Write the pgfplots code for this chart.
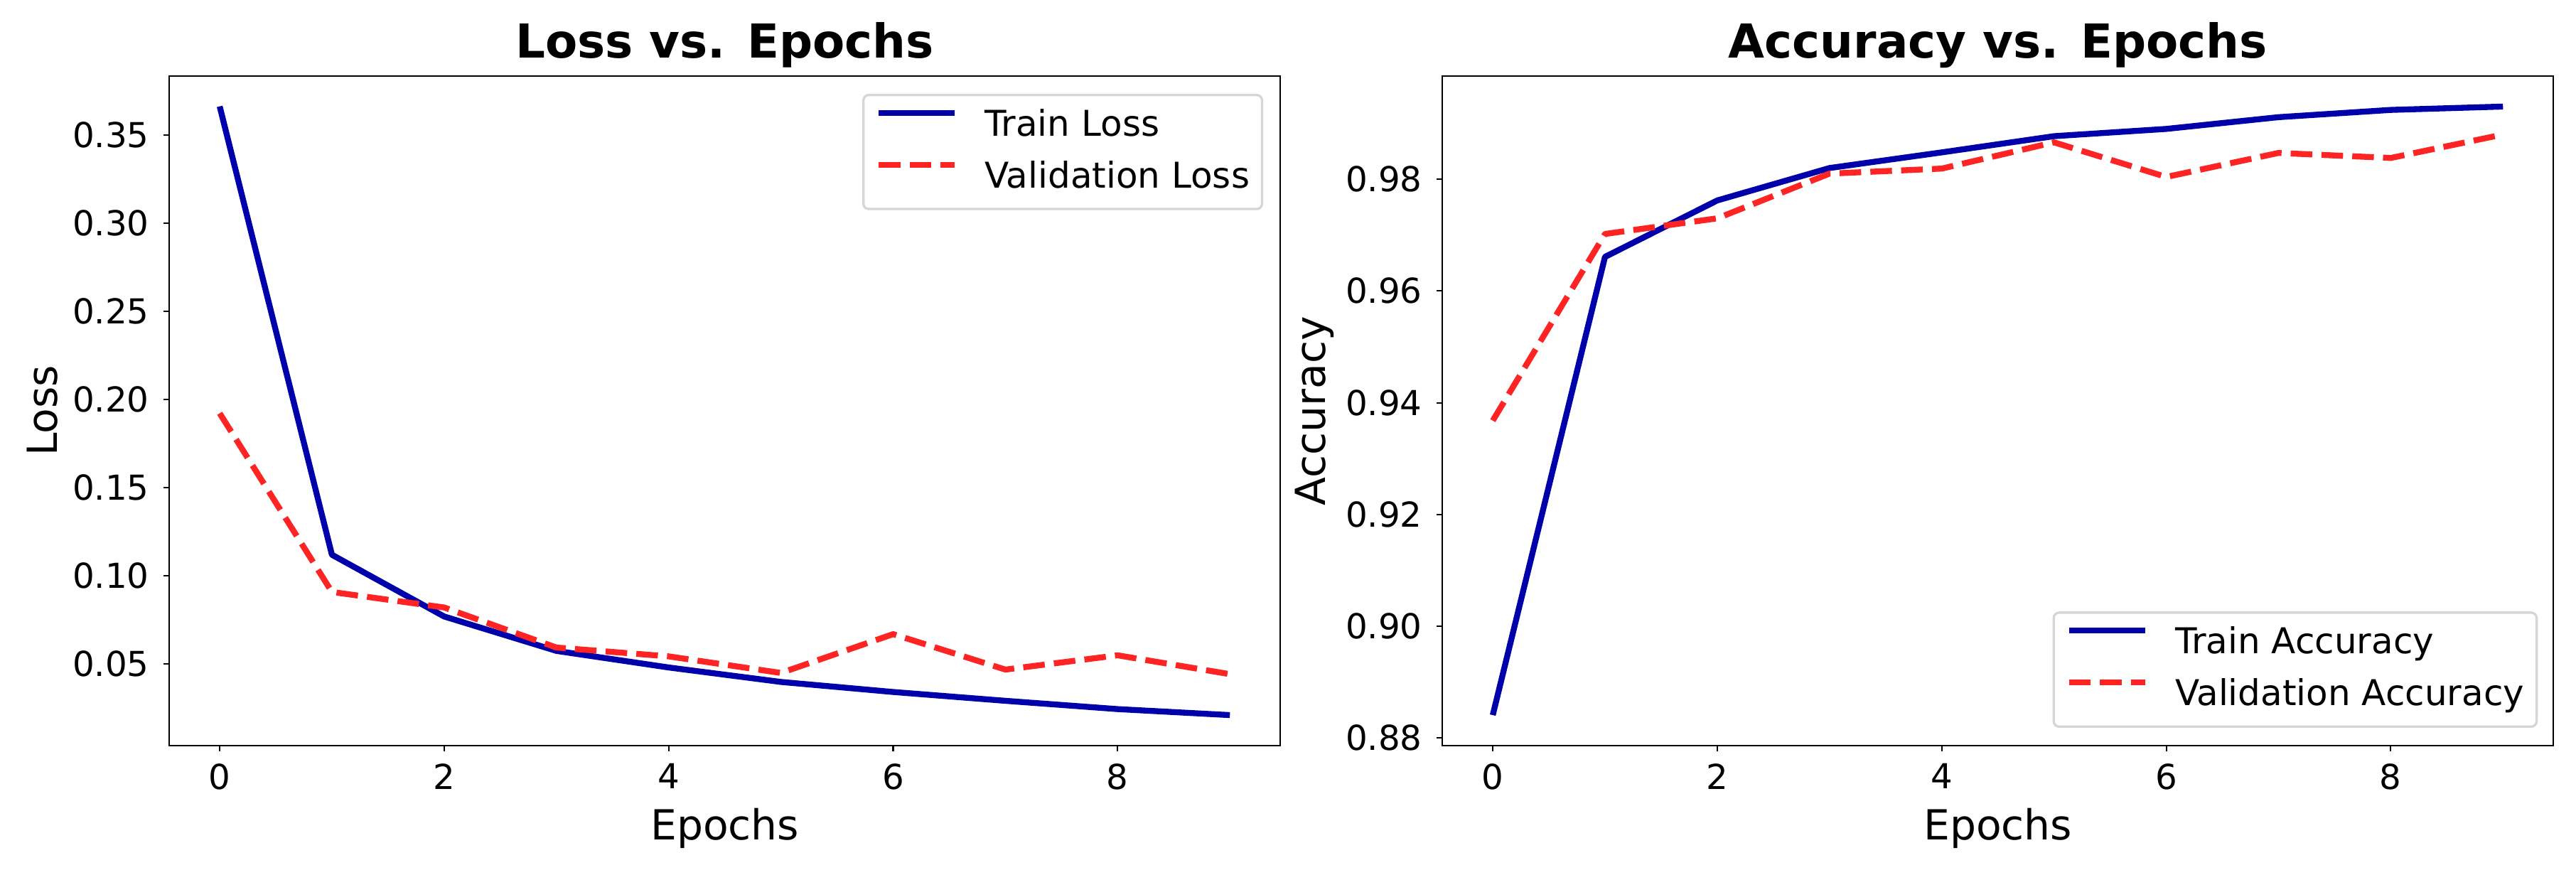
\documentclass[border=0pt]{standalone}
\usepackage{fontspec}
\setmainfont{DejaVu Sans}
\usepackage{pgfplots}
\pgfplotsset{compat=1.18}
\definecolor{tblue}{RGB}{0,0,170}
\definecolor{vred}{RGB}{255,36,36}
\definecolor{legframe}{RGB}{214,214,214}
\pgfplotsset{
  mystyle/.style={
    scale only axis,
    width=375.2bp, height=226.08bp,
    xmin=-0.45, xmax=9.45,
    xtick={0,2,4,6,8},
    xticklabels={0,2,4,6,8},
    tick pos=left,
    tick align=outside,
    major tick length=1.85bp,
    every tick/.style={line width=0.5bp, black},
    axis line style={line width=0.5bp},
    /pgf/number format/assume math mode=true,
    ticklabel style={font=\fontsize{11.6bp}{13bp}\selectfont},
    xticklabel style={inner sep=0pt, anchor=north, yshift=-4.05bp},
    yticklabel style={inner sep=0pt, anchor=east, xshift=-4.75bp},
    every axis title shift=0pt,
    title style={at={(axis description cs:0.5,1)}, anchor=base, yshift=6bp, inner sep=0pt, font=\bfseries\fontsize{15.8bp}{19bp}\selectfont},
    xlabel style={at={(axis description cs:0.5,0)}, anchor=base, yshift=-31.9bp, inner sep=0pt, font=\fontsize{14bp}{17bp}\selectfont},
    legend cell align=left,
    legend image code/.code={\draw[#1] (0bp,4.4bp) -- (25.7bp,4.4bp);},
    legend style={draw=legframe, line width=0.8bp, rounded corners=1.8bp,
      font=\fontsize{12bp}{15bp}\selectfont,
      inner xsep=4.2bp, inner ysep=4.5bp,
      column sep=9.1bp, row sep=5.5bp,
      nodes={inner sep=0pt, text height=9.4bp, text depth=2.6bp}},
    trainline/.style={color=tblue, line width=2bp, line join=round},
    valline/.style={color=vred, line width=2bp, line join=round, dash pattern=on 7.3bp off 3.1bp},
  }
}
\begin{document}
\begin{tikzpicture}
\useasboundingbox (0,0) rectangle (869.76bp,293.76bp);
\begin{axis}[mystyle, name=L,
  at={(57.12bp,42bp)}, anchor=south west,
  ymin=0.0038, ymax=0.3834,
  ytick={0.05,0.10,0.15,0.20,0.25,0.30,0.35},
  yticklabels={0.05,0.10,0.15,0.20,0.25,0.30,0.35},
  title={Loss vs. Epochs},
  xlabel={Epochs},
  legend style={at={(1,1)}, anchor=north east, xshift=-5.8bp, yshift=-6bp},
]
\addplot[trainline] coordinates {(0,0.3662) (1,0.1120) (2,0.0770) (3,0.0575) (4,0.0481) (5,0.0399) (6,0.0342) (7,0.0292) (8,0.0245) (9,0.0211)};
\addlegendentry{Train Loss}
\addplot[valline] coordinates {(0,0.1922) (1,0.0909) (2,0.0821) (3,0.0594) (4,0.0544) (5,0.0450) (6,0.0670) (7,0.0469) (8,0.0550) (9,0.0443)};
\addlegendentry{Validation Loss}
\end{axis}
\node[rotate=90, anchor=base, inner sep=0pt, font=\fontsize{14bp}{17bp}\selectfont] at ([xshift=-37.9bp]L.west) {Loss};
\begin{axis}[mystyle, name=R,
  at={(486.96bp,42bp)}, anchor=south west,
  ymin=0.87864, ymax=0.99846,
  ytick={0.88,0.90,0.92,0.94,0.96,0.98},
  yticklabels={0.88,0.90,0.92,0.94,0.96,0.98},
  title={Accuracy vs. Epochs},
  xlabel={Epochs},
  legend style={at={(1,0)}, anchor=south east, xshift=-5.3bp, yshift=6bp},
]
\addplot[trainline] coordinates {(0,0.8841) (1,0.9661) (2,0.9762) (3,0.9820) (4,0.9848) (5,0.9877) (6,0.9890) (7,0.9911) (8,0.9924) (9,0.9930)};
\addlegendentry{Train Accuracy}
\addplot[valline] coordinates {(0,0.9368) (1,0.9702) (2,0.9730) (3,0.9810) (4,0.9819) (5,0.9866) (6,0.9804) (7,0.9847) (8,0.9838) (9,0.9880)};
\addlegendentry{Validation Accuracy}
\end{axis}
\node[rotate=90, anchor=base, inner sep=0pt, font=\fontsize{14bp}{17bp}\selectfont] at ([xshift=-39.4bp]R.west) {Accuracy};
\end{tikzpicture}
\end{document}
